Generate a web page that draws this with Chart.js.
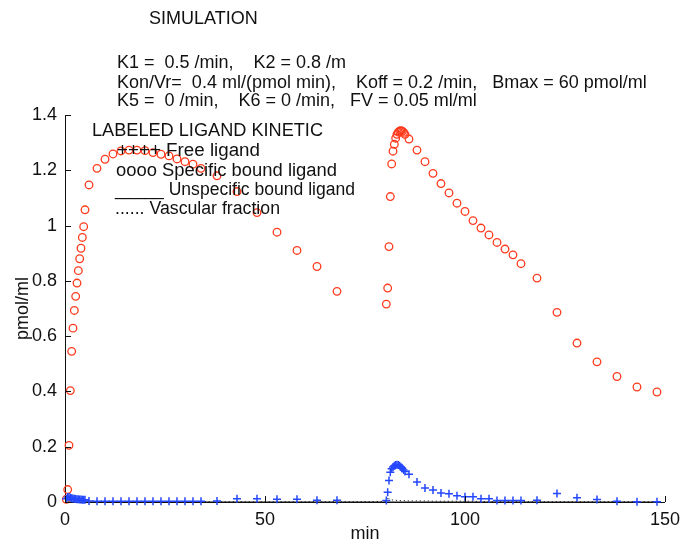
<!DOCTYPE html>
<html lang="en">
<head>
<meta charset="UTF-8">
<title>Labeled ligand kinetic</title>
<script src="https://cdn.jsdelivr.net/npm/chart.js"></script>
<style>
  html, body { margin: 0; padding: 0; background: #fff; }
  #wrap { width: 687px; height: 546px; }
</style>
</head>
<body>
<div id="wrap"><canvas id="kinetic" width="687" height="546"></canvas></div>
<script>
// sample times (min): first injection at 0, second at 80
const timeMin = [
  0.33, 0.67, 1, 1.33, 1.67, 2, 2.33, 2.67, 3, 3.33, 3.67, 4, 4.33, 4.67, 5,
  6, 8, 10, 12, 14, 16, 18, 20, 22, 24, 26, 28, 30, 32, 34,
  38, 43, 48, 53, 58, 63, 68,
  80.33, 80.67, 81, 81.33, 81.67, 82, 82.33, 82.67, 83, 83.33, 83.67, 84, 84.33, 84.67, 85,
  86, 88, 90, 92, 94, 96, 98, 100, 102, 104, 106, 108, 110, 112, 114,
  118, 123, 128, 133, 138, 143, 148
];

// pmol/ml
const freeLigand = [
  0.012, 0.018, 0.017, 0.016, 0.014, 0.013, 0.012, 0.011, 0.010, 0.010, 0.009, 0.009, 0.008, 0.008, 0.008,
  0.004, 0.003, 0.003, 0.003, 0.003, 0.003, 0.003, 0.003, 0.003, 0.003, 0.003, 0.003, 0.003, 0.003, 0.003,
  0.004, 0.012, 0.012, 0.010, 0.010, 0.006, 0.006,
  0.005, 0.035, 0.078, 0.108, 0.120, 0.127, 0.131, 0.134, 0.135, 0.134, 0.131, 0.127, 0.122, 0.116, 0.110,
  0.100, 0.072, 0.051, 0.043, 0.033, 0.030, 0.023, 0.019, 0.019, 0.012, 0.012, 0.005, 0.005, 0.005, 0.005,
  0.006, 0.031, 0.015, 0.009, 0.003, 0.001, 0.001
];

const specificBound = [
  0.010, 0.045, 0.205, 0.403, 0.545, 0.629, 0.693, 0.744, 0.792, 0.837, 0.880, 0.918, 0.957, 0.996, 1.057,
  1.147, 1.207, 1.240, 1.259, 1.270, 1.273, 1.273, 1.271, 1.264, 1.258, 1.252, 1.241, 1.231, 1.222, 1.207,
  1.180, 1.123, 1.047, 0.976, 0.910, 0.852, 0.762,
  0.716, 0.774, 0.924, 1.105, 1.223, 1.269, 1.294, 1.316, 1.330, 1.338, 1.342, 1.343, 1.341, 1.337, 1.330,
  1.313, 1.273, 1.231, 1.189, 1.152, 1.118, 1.081, 1.051, 1.018, 0.991, 0.966, 0.939, 0.915, 0.894, 0.862,
  0.810, 0.686, 0.575, 0.507, 0.454, 0.416, 0.398
];

// K5 = K6 = 0, so nothing binds unspecifically
const unspecificBound = [
  0, 0, 0, 0, 0, 0, 0, 0, 0, 0, 0, 0, 0, 0, 0,
  0, 0, 0, 0, 0, 0, 0, 0, 0, 0, 0, 0, 0, 0, 0,
  0, 0, 0, 0, 0, 0, 0,
  0, 0, 0, 0, 0, 0, 0, 0, 0, 0, 0, 0, 0, 0, 0,
  0, 0, 0, 0, 0, 0, 0, 0, 0, 0, 0, 0, 0, 0, 0,
  0, 0, 0, 0, 0, 0, 0
];

const vascularFraction = [
  0.020, 0.012, 0.009, 0.008, 0.007, 0.007, 0.006, 0.006, 0.006, 0.005, 0.005, 0.005, 0.005, 0.005, 0.005,
  0.004, 0.004, 0.004, 0.003, 0.003, 0.003, 0.003, 0.003, 0.002, 0.002, 0.002, 0.002, 0.002, 0.002, 0.002,
  0.001, 0.001, 0.001, 0.001, 0.001, 0.001, 0.001,
  0.002, 0.019, 0.012, 0.009, 0.008, 0.007, 0.007, 0.006, 0.006, 0.006, 0.005, 0.005, 0.005, 0.005, 0.005,
  0.004, 0.004, 0.004, 0.003, 0.003, 0.003, 0.003, 0.003, 0.003, 0.002, 0.002, 0.002, 0.002, 0.002, 0.002,
  0.001, 0.001, 0.001, 0.001, 0.001, 0.001, 0.001
];

const xTicks = [0, 50, 100, 150];
const yTicks = [0, 0.2, 0.4, 0.6, 0.8, 1, 1.2, 1.4];

const headerLines = [
  'SIMULATION',
  'K1 =  0.5 /min,    K2 = 0.8 /m',
  'Kon/Vr=  0.4 ml/(pmol min),    Koff = 0.2 /min,   Bmax = 60 pmol/ml',
  'K5 =  0 /min,    K6 = 0 /min,   FV = 0.05 ml/ml'
];
const legendLines = [
  'LABELED LIGAND KINETIC',
  '++++ Free ligand',
  'oooo Specific bound ligand',
  '_____ Unspecific bound ligand',
  '...... Vascular fraction'
];

const FONT = '"Liberation Sans", Arial, sans-serif';
const pts = ys => timeMin.map((t, i) => ({ x: t, y: ys[i] }));

// x, y (text middle), width the line is fitted to (0 = natural width)
const headerPos = [[149, 19, 0], [117, 63, 0], [117, 83, 0], [117, 101, 0]];
const legendPos = [[92, 131, 231], [117, 151, 143], [116, 171, 221], [115, 190, 240], [115, 209, 165]];

const plotText = {
  id: 'plotText',
  afterDraw(chart) {
    const ctx = chart.ctx;
    const { left, bottom } = chart.chartArea;
    const xs = chart.scales.x, ys = chart.scales.y;

    // matlab style inward ticks
    ctx.save();
    ctx.strokeStyle = '#111';
    ctx.lineWidth = 1;
    ctx.beginPath();
    xTicks.forEach(v => {
      const px = Math.round(xs.getPixelForValue(v)) + 0.5;
      ctx.moveTo(px, bottom); ctx.lineTo(px, bottom - 6);
    });
    yTicks.forEach(v => {
      const py = Math.round(ys.getPixelForValue(v)) + 0.5;
      ctx.moveTo(left, py); ctx.lineTo(left + 6, py);
    });
    ctx.stroke();

    ctx.fillStyle = '#111';
    ctx.font = '18px ' + FONT;
    ctx.textBaseline = 'middle';
    const put = (str, [x, y, w]) => {
      const sx = w ? w / ctx.measureText(str).width : 1;
      ctx.save();
      ctx.translate(x, y);
      ctx.scale(sx, 1);
      ctx.fillText(str, 0, 0);
      ctx.restore();
    };
    headerLines.forEach((s, i) => put(s, headerPos[i]));
    legendLines.forEach((s, i) => put(s, legendPos[i]));
    ctx.restore();
  }
};

new Chart(document.getElementById('kinetic'), {
  type: 'scatter',
  data: {
    datasets: [
      {
        label: 'Free ligand',
        data: pts(freeLigand),
        pointStyle: 'cross',
        pointRadius: 4,
        borderWidth: 1.5,
        borderColor: '#2447ff',
        backgroundColor: '#2447ff',
        showLine: false,
        clip: false
      },
      {
        label: 'Specific bound ligand',
        data: pts(specificBound),
        pointStyle: 'circle',
        pointRadius: 3.8,
        borderWidth: 1.3,
        borderColor: '#ff3a1c',
        backgroundColor: 'rgba(0,0,0,0)',
        showLine: false,
        clip: false
      },
      {
        label: 'Unspecific bound ligand',
        data: pts(unspecificBound),
        showLine: true,
        pointRadius: 0,
        borderWidth: 1,
        borderColor: '#111'
      },
      {
        label: 'Vascular fraction',
        data: pts(vascularFraction),
        showLine: true,
        pointRadius: 0,
        borderWidth: 1,
        borderDash: [1, 3],
        borderColor: '#000',
        clip: false
      }
    ]
  },
  options: {
    responsive: false,
    animation: false,
    devicePixelRatio: 1,
    layout: { padding: { top: 115, right: 17, left: 0, bottom: 0 } },
    plugins: { legend: { display: false }, tooltip: { enabled: false } },
    scales: {
      x: {
        type: 'linear',
        min: 0, max: 150,
        afterFit: s => { s.height = 44; },
        afterBuildTicks: s => { s.ticks = xTicks.map(v => ({ value: v })); },
        grid: { display: false, drawTicks: false },
        border: { display: true, color: '#111', width: 1 },
        ticks: { color: '#111', padding: 7, font: { family: FONT, size: 18 } },
        title: { display: true, text: 'min', color: '#111', padding: { top: 0, bottom: 1 }, font: { family: FONT, size: 18 } }
      },
      y: {
        min: 0, max: 1.4,
        afterFit: s => { s.width = 65; },
        afterBuildTicks: s => { s.ticks = yTicks.map(v => ({ value: v })); },
        grid: { display: false, drawTicks: false },
        border: { display: true, color: '#111', width: 1 },
        ticks: {
          color: '#111', padding: 8, font: { family: FONT, size: 18 },
          callback: v => String(Math.round(v * 10) / 10)
        },
        title: { display: true, text: 'pmol/ml', color: '#111', padding: { top: 12, bottom: 0 }, font: { family: FONT, size: 18 } }
      }
    }
  },
  plugins: [plotText]
});
</script>
</body>
</html>
